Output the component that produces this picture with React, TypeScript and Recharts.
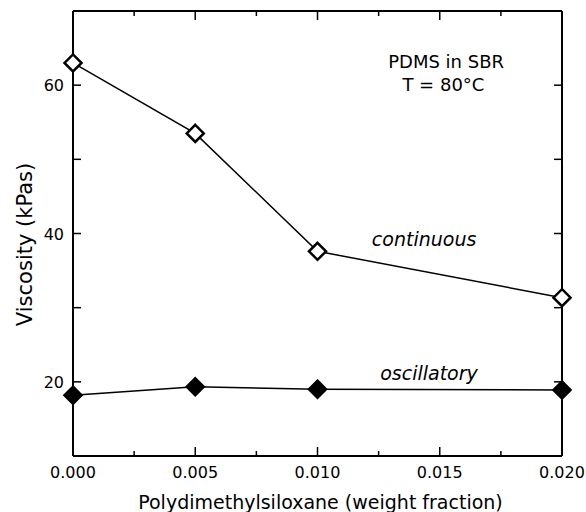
import React from 'react';
import { LineChart, Line, XAxis, YAxis, ReferenceDot } from 'recharts';

const fractions = [0, 0.005, 0.01, 0.02];
const continuous = [63.0, 53.5, 37.6, 31.35];
const oscillatory = [18.2, 19.33, 19.0, 18.9];

const xTicks = [0, 0.0025, 0.005, 0.0075, 0.01, 0.0125, 0.015, 0.0175, 0.02];
const yTicks = [10, 20, 30, 40, 50, 60, 70];
const yLabeled = [20, 40, 60];

const data = fractions.map((f, i) => ({ f, continuous: continuous[i], oscillatory: oscillatory[i] }));

const FONT = "'DejaVu Sans', sans-serif";

const isMajorX = (v: number) => Math.abs(v / 0.005 - Math.round(v / 0.005)) < 1e-6;

const BottomTick = (props: any) => {
  const { x, y, payload } = props;
  const v = payload.value as number;
  const major = isMajorX(v);
  return (
    <g>
      <line x1={x} x2={x} y1={y} y2={y - (major ? 9 : 5)} stroke="#000" strokeWidth={1.5} />
      {major && (
        <text x={x} y={y + 22} textAnchor="middle" fontFamily={FONT} fontSize={16} fill="#000">
          {v.toFixed(3)}
        </text>
      )}
    </g>
  );
};

const TopTick = (props: any) => {
  const { x, y, payload } = props;
  const v = payload.value as number;
  const major = isMajorX(v);
  return <line x1={x} x2={x} y1={y} y2={y + (major ? 9 : 5)} stroke="#000" strokeWidth={1.5} />;
};

const LeftTick = (props: any) => {
  const { x, y, payload } = props;
  const v = payload.value as number;
  return (
    <g>
      <line x1={x} x2={x + 8} y1={y} y2={y} stroke="#000" strokeWidth={1.5} />
      {yLabeled.includes(v) && (
        <text x={x - 9} y={y + 6} textAnchor="end" fontFamily={FONT} fontSize={16} fill="#000">
          {v}
        </text>
      )}
    </g>
  );
};

const RightTick = (props: any) => {
  const { x, y } = props;
  return <line x1={x} x2={x - 8} y1={y} y2={y} stroke="#000" strokeWidth={1.5} />;
};

const OpenDiamond = (props: any) => {
  const { cx, cy, index } = props;
  const s = 8.5;
  return (
    <path
      key={`o-${index}`}
      d={`M${cx},${cy - s}L${cx + s},${cy}L${cx},${cy + s}L${cx - s},${cy}Z`}
      fill="#fff"
      stroke="#000"
      strokeWidth={2.5}
    />
  );
};

const FilledDiamond = (props: any) => {
  const { cx, cy, index } = props;
  const s = 8.5;
  return (
    <path
      key={`f-${index}`}
      d={`M${cx},${cy - s}L${cx + s},${cy}L${cx},${cy + s}L${cx - s},${cy}Z`}
      fill="#000"
      stroke="#000"
      strokeWidth={2.5}
    />
  );
};

const makeText = (text: string, size: number, italic: boolean) => (props: any) => {
  const { cx, cy } = props;
  return (
    <text
      x={cx}
      y={cy}
      textAnchor="middle"
      fontFamily={FONT}
      fontSize={size}
      fontStyle={italic ? 'italic' : 'normal'}
      fill="#000"
    >
      {text}
    </text>
  );
};

const XLabel = (props: any) => {
  const { viewBox } = props;
  return (
    <text
      x={viewBox.x + viewBox.width / 2 + 3}
      y={viewBox.y + 53}
      textAnchor="middle"
      fontFamily={FONT}
      fontSize={19}
      fill="#000"
    >
      Polydimethylsiloxane (weight fraction)
    </text>
  );
};

const YLabel = (props: any) => {
  const { viewBox } = props;
  const cx = viewBox.x + 32;
  const cy = viewBox.y + viewBox.height / 2 + 11;
  return (
    <text
      x={cx}
      y={cy}
      transform={`rotate(-90, ${cx}, ${cy})`}
      textAnchor="middle"
      fontFamily={FONT}
      fontSize={21}
      fill="#000"
    >
      Viscosity (kPas)
    </text>
  );
};

export default function App() {
  return (
    <div style={{ position: 'absolute', left: 0, top: 0 }}>
      <LineChart width={586} height={512} data={data} margin={{ top: 10, right: 23, left: 0, bottom: 0 }}>
        <XAxis
          dataKey="f"
          type="number"
          domain={[0, 0.02]}
          ticks={xTicks}
          interval={0}
          tickSize={0}
          tickMargin={0}
          tickLine={false}
          tick={<BottomTick />}
          height={56}
          axisLine={{ stroke: '#000', strokeWidth: 2 }}
          label={<XLabel />}
        />
        <XAxis
          xAxisId="top"
          orientation="top"
          dataKey="f"
          type="number"
          domain={[0, 0.02]}
          ticks={xTicks}
          interval={0}
          tickSize={0}
          tickMargin={0}
          tickLine={false}
          tick={<TopTick />}
          height={1}
          axisLine={{ stroke: '#000', strokeWidth: 2 }}
        />
        <YAxis
          type="number"
          domain={[10, 70]}
          ticks={yTicks}
          interval={0}
          tickSize={0}
          tickMargin={0}
          tickLine={false}
          tick={<LeftTick />}
          width={73}
          axisLine={{ stroke: '#000', strokeWidth: 2 }}
          label={<YLabel />}
        />
        <YAxis
          yAxisId="right"
          orientation="right"
          type="number"
          domain={[10, 70]}
          ticks={yTicks}
          interval={0}
          tickSize={0}
          tickMargin={0}
          tickLine={false}
          tick={<RightTick />}
          width={1}
          axisLine={{ stroke: '#000', strokeWidth: 2 }}
        />
        <Line
          xAxisId="top"
          yAxisId="right"
          dataKey="continuous"
          stroke="none"
          dot={false}
          activeDot={false}
          legendType="none"
          isAnimationActive={false}
        />
        <Line
          dataKey="continuous"
          stroke="#000"
          strokeWidth={1.5}
          dot={<OpenDiamond />}
          isAnimationActive={false}
        />
        <Line
          dataKey="oscillatory"
          stroke="#000"
          strokeWidth={1.5}
          dot={<FilledDiamond />}
          isAnimationActive={false}
        />
        <ReferenceDot x={0.01526} y={62.33} r={0} shape={makeText('PDMS in SBR', 18, false)} />
        <ReferenceDot x={0.01515} y={59.25} r={0} shape={makeText('T = 80°C', 18, false)} />
        <ReferenceDot x={0.01436} y={38.3} r={0} shape={makeText('continuous', 19, true)} />
        <ReferenceDot x={0.01456} y={20.25} r={0} shape={makeText('oscillatory', 19, true)} />
      </LineChart>
    </div>
  );
}
